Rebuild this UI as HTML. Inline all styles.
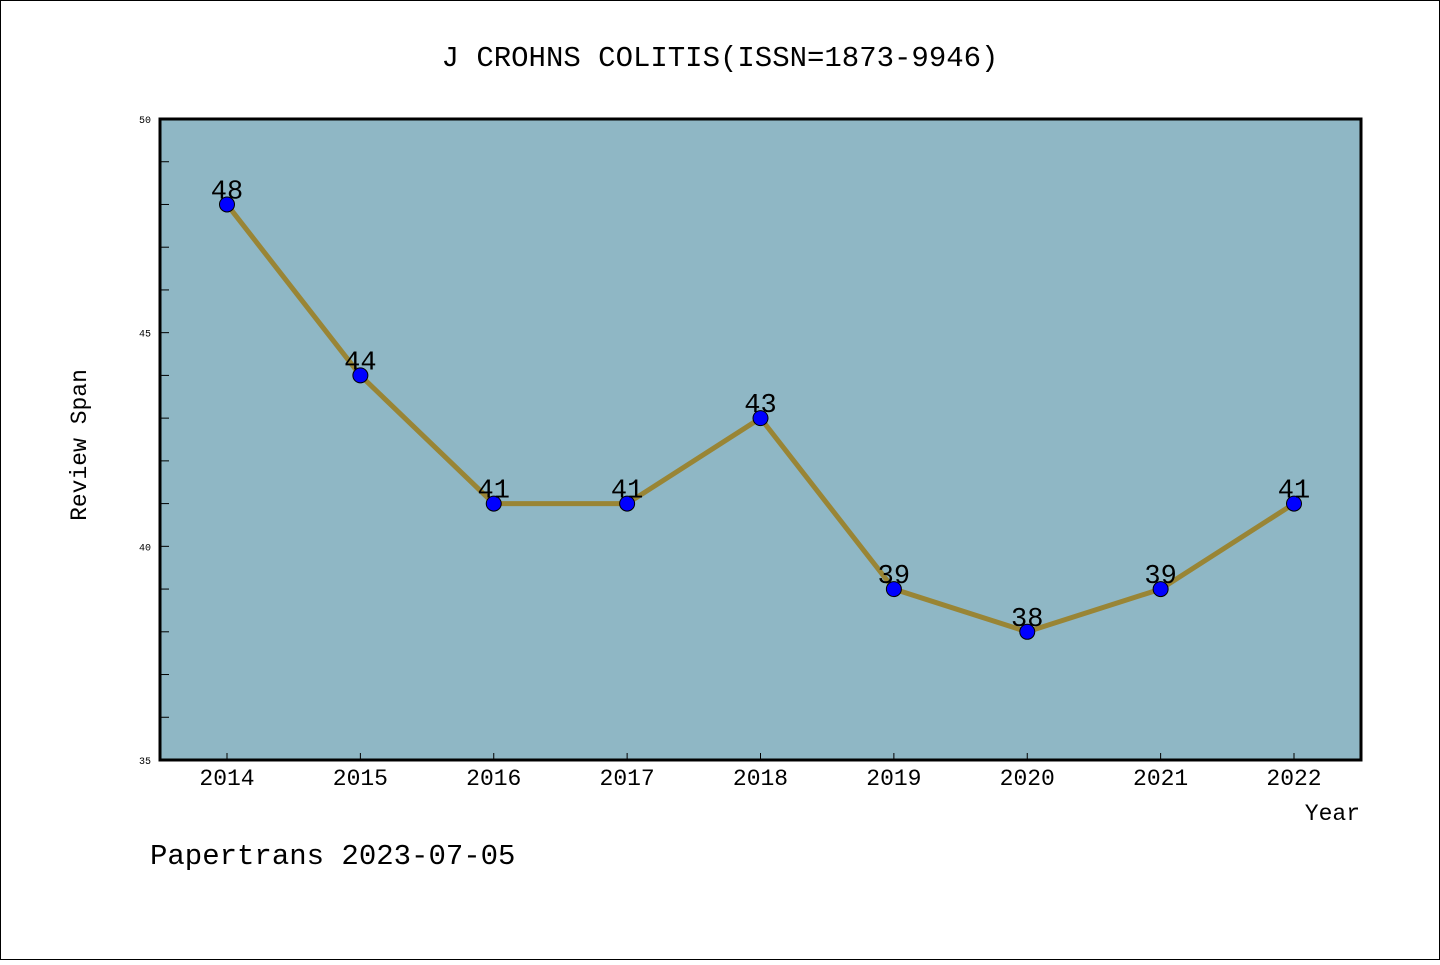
<!DOCTYPE html>
<html><head><meta charset="utf-8"><style>
body{margin:0;background:#fff}
svg text{font-family:"Liberation Mono","DejaVu Sans Mono",monospace}
</style></head><body>
<svg width="1440" height="960">
<rect x="0.5" y="0.5" width="1439" height="959" fill="#fff" stroke="#000"/>
<text x="720" y="66" text-anchor="middle" font-size="29">J CROHNS COLITIS(ISSN=1873-9946)</text>
<rect x="160" y="119" width="1201" height="641" fill="#8fb7c5"/>
<g id="ticks"></g>
<g id="series"></g>
<rect x="160" y="119" width="1201" height="641" fill="none" stroke="#000" stroke-width="3"/>
<text x="86" y="445" transform="rotate(-90 86 445)" text-anchor="middle" font-size="23">Review Span</text>
<text x="1360" y="820" text-anchor="end" font-size="23">Year</text>
<text x="150" y="864" font-size="29">Papertrans 2023-07-05</text>
</svg>
<script>
const years=[2014,2015,2016,2017,2018,2019,2020,2021,2022];
const values=[48,44,41,41,43,39,38,39,41];
const yTicks=[35,40,45,50];
const NS="http://www.w3.org/2000/svg";
const x0=227,x1=1294,yTop=119,yBot=760,ymin=35,ymax=50;
const xs=i=>x0+(x1-x0)*i/(years.length-1);
const ys=v=>yBot-(v-ymin)/(ymax-ymin)*(yBot-yTop);
function mk(t,a,p){const e=document.createElementNS(NS,t);for(const k in a)e.setAttribute(k,a[k]);(p||document.getElementById('series')).appendChild(e);return e;}
const tg=document.getElementById('ticks');
for(let v=ymin;v<=ymax;v++){const l=mk('line',{x1:160,x2:169,y1:ys(v),y2:ys(v),stroke:'#000','stroke-width':1},tg);

}
yTicks.forEach(v=>{const t=mk('text',{x:151,y:ys(v)+4,'text-anchor':'end','font-size':10},tg);t.textContent=v;

});
years.forEach((yr,i)=>{const l=mk('line',{x1:xs(i),x2:xs(i),y1:760,y2:753,stroke:'#000','stroke-width':1},tg);


const t=mk('text',{x:xs(i),y:785,'text-anchor':'middle','font-size':23,'font-family':'Liberation Sans, sans-serif'},tg);t.textContent=yr;

});
const pl=mk('polyline',{points:values.map((v,i)=>xs(i)+','+ys(v)).join(' '),fill:'none',stroke:'#998535','stroke-width':5});


values.forEach((v,i)=>{const c=mk('circle',{cx:xs(i),cy:ys(v),r:7.5,fill:'#0000ff',stroke:'#000','stroke-width':1});


const t=mk('text',{x:xs(i),y:ys(v)-6,'text-anchor':'middle','font-size':27,'font-family':'Liberation Sans, sans-serif'});t.textContent=v;

});
</script>
</body></html>
